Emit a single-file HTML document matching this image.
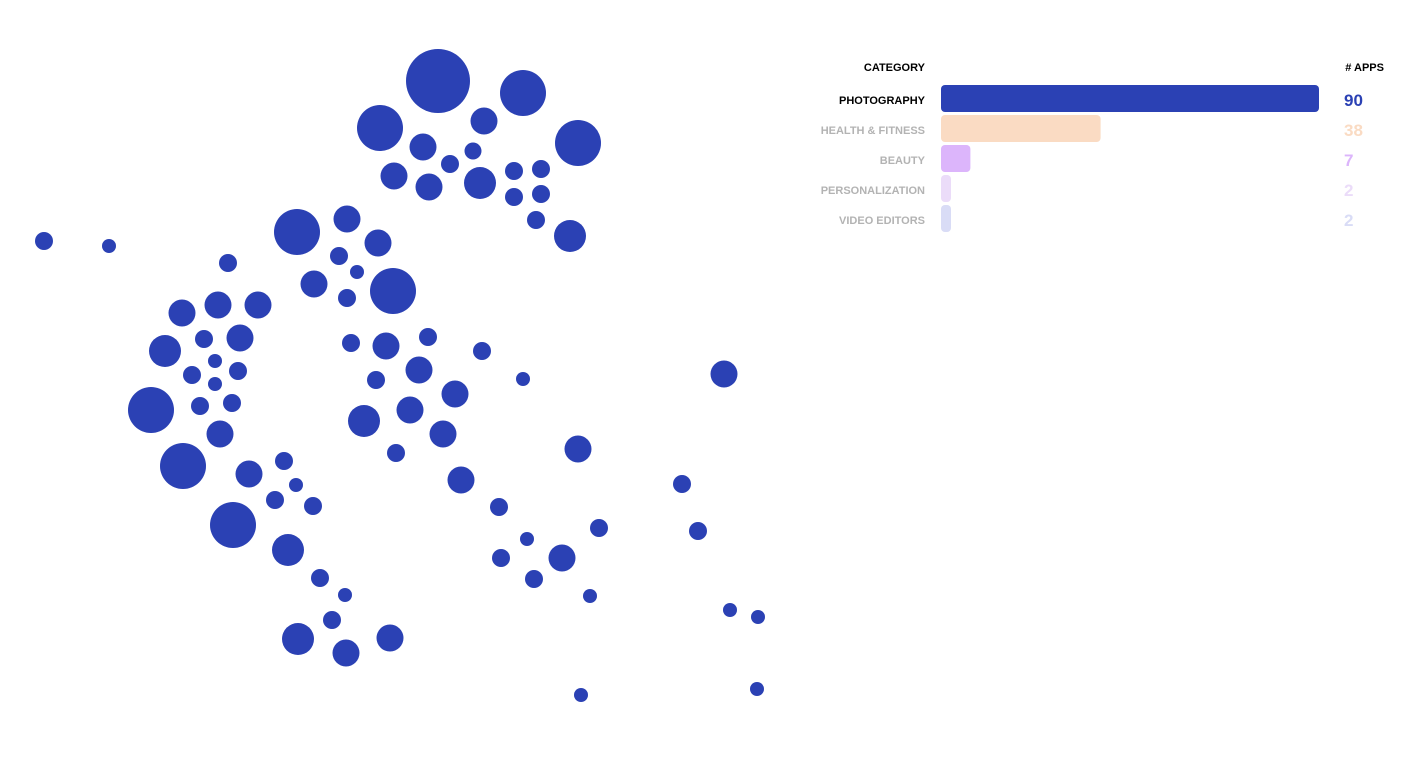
<!DOCTYPE html>
<html><head><meta charset="utf-8">
<style>
body{margin:0;background:#fff;width:1418px;height:774px;overflow:hidden;font-family:"Liberation Sans",sans-serif}
svg{position:absolute;left:0;top:0}
</style></head>
<body>
<svg id="chart" width="1418" height="774"></svg>
<script>
// bubbles: x, y, radius (px estimates of app positions)
const bubbleX=[438,523,380,484,578,423,473,450,394,429,480,514,541,514,541,536,570,44,109,297,347,378,339,357,314,347,393,228,182,218,258,204,240,165,215,192,238,215,151,200,232,220,183,249,284,296,275,313,233,288,320,345,332,298,346,390,351,386,428,482,523,419,376,455,410,364,443,396,578,461,499,724,682,599,698,527,501,562,534,590,730,758,581,757];
const bubbleY=[81,93,128,121,143,147,151,164,176,187,183,171,169,197,194,220,236,241,246,232,219,243,256,272,284,298,291,263,313,305,305,339,338,351,361,375,371,384,410,406,403,434,466,474,461,485,500,506,525,550,578,595,620,639,653,638,343,346,337,351,379,370,380,394,410,421,434,453,449,480,507,374,484,528,531,539,558,558,579,596,610,617,695,689];
const bubbleR=[32,23,23,13.5,23,13.5,8.5,9,13.5,13.5,16,9,9,9,9,9,16,9,7,23,13.5,13.5,9,7,13.5,9,23,9,13.5,13.5,13.5,9,13.5,16,7,9,9,7,23,9,9,13.5,23,13.5,9,7,9,9,23,16,9,7,9,16,13.5,13.5,9,13.5,9,9,7,13.5,9,13.5,13.5,16,13.5,9,13.5,13.5,9,13.5,9,9,9,7,9,13.5,9,7,7,7,7,7];
// legend data
const categories=["PHOTOGRAPHY","HEALTH & FITNESS","BEAUTY","PERSONALIZATION","VIDEO EDITORS"];
const appCounts=[90,38,7,2,2];
const barColors=["#2b41b4","#fadbc3","#dcb5fb","#ebdcf9","#d9dcf6"];
const labelColors=["#000","#b3b3b3","#b3b3b3","#b3b3b3","#b3b3b3"];

const NS="http://www.w3.org/2000/svg";
const svg=document.getElementById('chart');
function mk(t,a){const e=document.createElementNS(NS,t);for(const k in a)e.setAttribute(k,a[k]);svg.appendChild(e);return e;}
for(let i=0;i<bubbleX.length;i++){
  const c=mk('circle',{cx:bubbleX[i],cy:bubbleY[i],r:bubbleR[i],fill:'#2b41b4'});
  
  
}
const h1=mk('text',{x:925,y:71,'text-anchor':'end','font-size':11,'font-weight':'bold',fill:'#000'});
h1.textContent='CATEGORY';


const h2=mk('text',{x:1384,y:71,'text-anchor':'end','font-size':11,'font-weight':'bold',fill:'#000'});
h2.textContent='# APPS';


const maxV=Math.max(...appCounts), x0=941, fullW=378;
function xs(v){return Math.max(10,v/maxV*fullW);}
for(let i=0;i<categories.length;i++){
  const y=85+i*30;
  const l=mk('text',{x:925,y:y+19,'text-anchor':'end','font-size':11,'font-weight':'bold',fill:labelColors[i]});
  l.textContent=categories[i];
  
  
  const b=mk('rect',{x:x0,y:y,width:xs(appCounts[i]),height:27,rx:4,fill:barColors[i]});
  
  
  const v=mk('text',{x:1344,y:y+21,'font-size':17,'font-weight':'bold',fill:barColors[i]});
  v.textContent=appCounts[i];
  
  
}
</script>
</body></html>
